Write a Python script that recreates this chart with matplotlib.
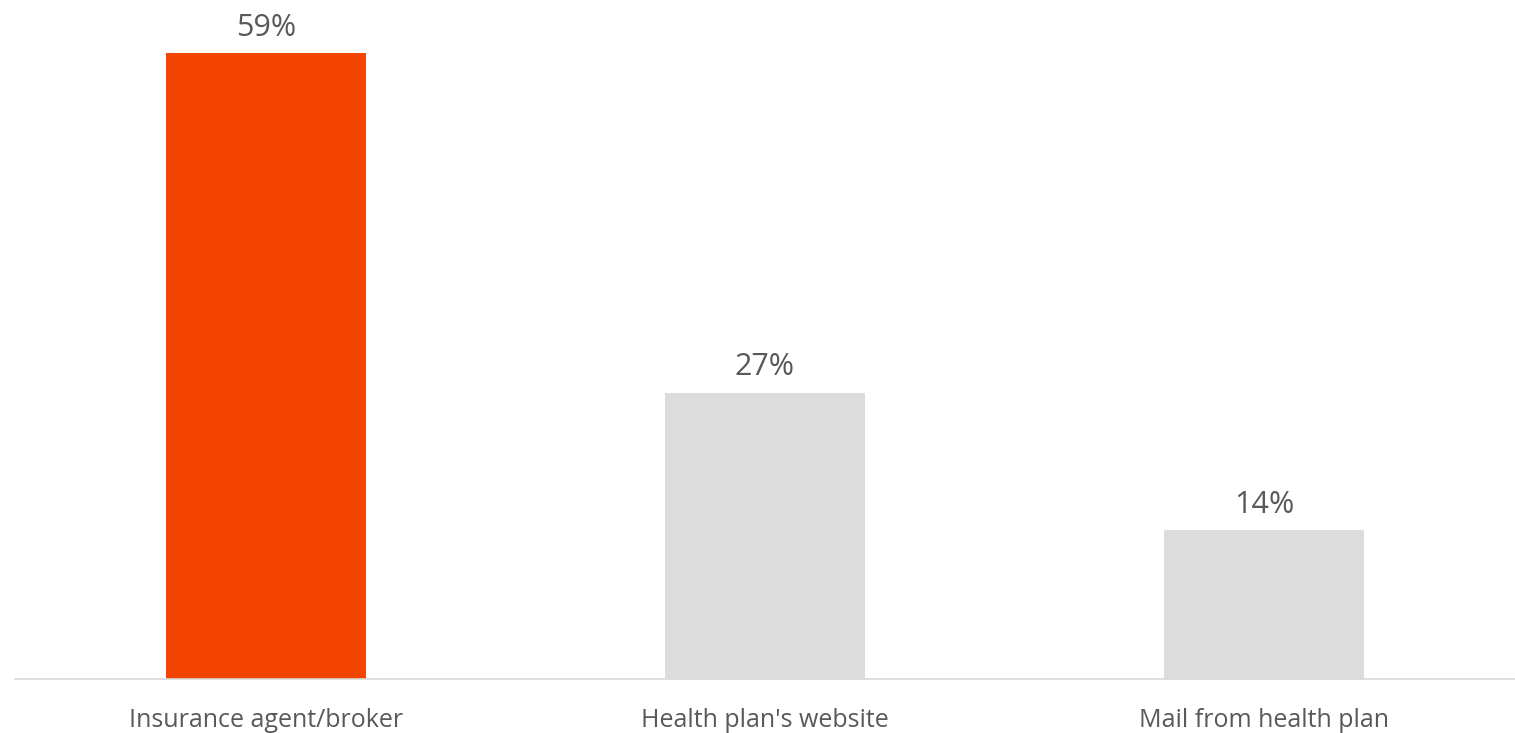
import matplotlib
matplotlib.use("Agg")
import matplotlib.pyplot as plt

categories = ["Insurance agent/broker", "Health plan's website", "Mail from health plan"]
values = [59, 27, 14]
bar_colors = ["#F44500", "#DCDCDC", "#DCDCDC"]

plt.rcParams["font.family"] = ["Open Sans", "DejaVu Sans"]

fig = plt.figure(figsize=(15.15, 7.33), dpi=100)
ax = fig.add_axes([15 / 1515, 54 / 733, 1500 / 1515, 679 / 733])

x = range(len(categories))
bars = ax.bar(x, values, width=0.4, color=bar_colors)

for rect, v in zip(bars, values):
    ax.annotate(f"{v}%", xy=(rect.get_x() + rect.get_width() / 2, v),
                xytext=(0, 7.5), textcoords="offset points",
                ha="center", va="bottom", fontsize=22, color="#595959")

ax.set_xlim(-0.503, 2.503)
ax.set_ylim(0, 64)
ax.set_xticks(list(x))
ax.set_xticklabels(categories, fontsize=18, color="#595959")
ax.tick_params(axis="x", length=0, pad=21)
ax.set_yticks([])

for side in ["top", "right", "left"]:
    ax.spines[side].set_visible(False)
ax.spines["bottom"].set_color("#D9D9D9")
ax.spines["bottom"].set_linewidth(1.2)

fig.savefig("out.png", dpi=100)
